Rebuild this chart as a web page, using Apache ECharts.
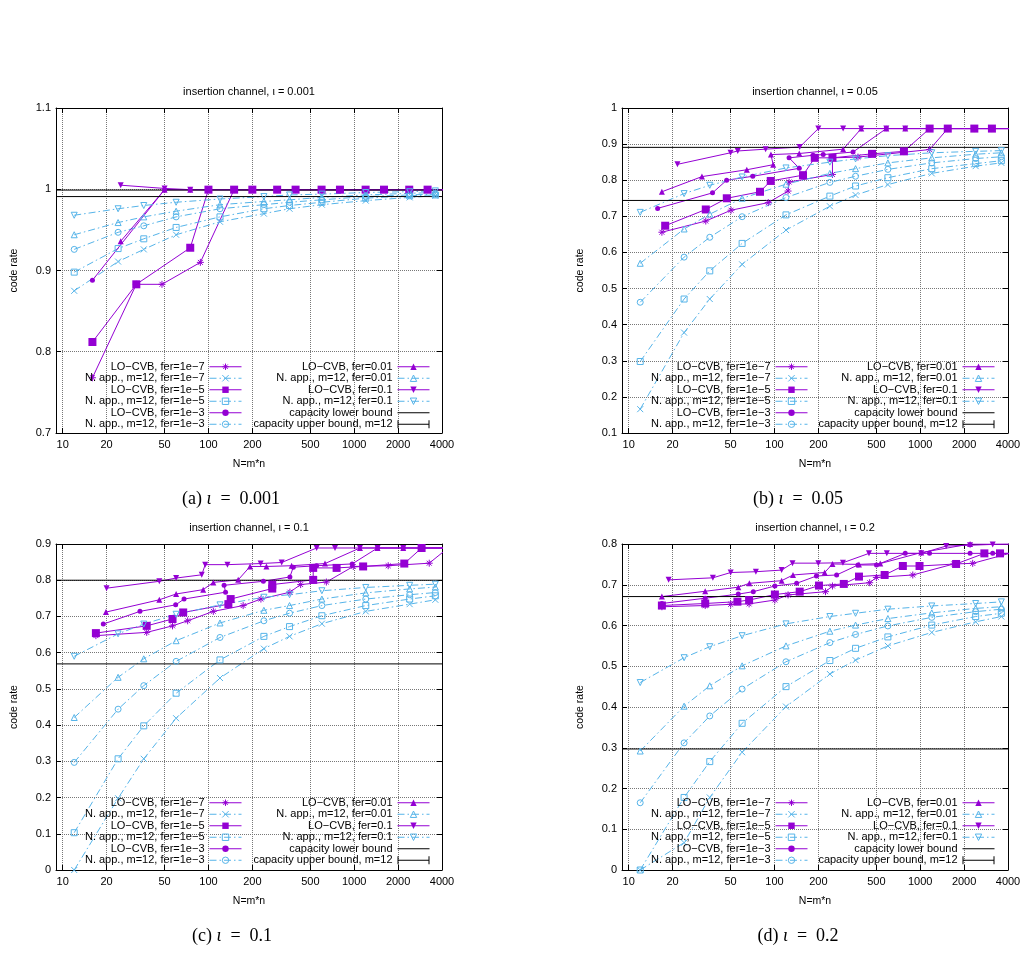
<!DOCTYPE html>
<html>
<head>
<meta charset="utf-8">
<script src="https://cdn.jsdelivr.net/npm/echarts@6/dist/echarts.min.js"></script>
<style>
html, body { margin: 0; padding: 0; background: #fff; }
#main { width: 1027px; height: 966px; }
</style>
</head>
<body>
<div id="main"></div>
<script>
// ---------------- data ----------------
// N values of the N. app. (m=12) points
var appN = [12, 24, 36, 60, 120, 240, 360, 600, 1200, 2400, 3600];
// x axis tick labels
var xTicks = [10, 20, 50, 100, 200, 500, 1000, 2000, 4000];
// iota of each panel
var iotas = ['0.001', '0.05', '0.1', '0.2'];
var yMin = [0.7, 0.1, 0, 0];
var yMax = [1.1, 1.0, 0.9, 0.8];
var capLower = [0.991, 0.744, 0.569, 0.297];
var capUpper = [0.999, 0.891, 0.800, 0.671];

// N. app. rates, rows: fer = 1e-7, 1e-5, 1e-3, 0.01, 0.1
var appA = [
    [0.875, 0.911, 0.926, 0.944, 0.960, 0.970, 0.976, 0.981, 0.986, 0.990, 0.992],
    [0.898, 0.927, 0.939, 0.953, 0.966, 0.976, 0.980, 0.984, 0.989, 0.992, 0.993],
    [0.926, 0.947, 0.955, 0.966, 0.976, 0.981, 0.984, 0.987, 0.991, 0.993, 0.994],
    [0.944, 0.959, 0.966, 0.973, 0.981, 0.985, 0.987, 0.990, 0.993, 0.995, 0.996],
    [0.968, 0.976, 0.980, 0.984, 0.988, 0.991, 0.993, 0.994, 0.996, 0.997, 0.998]
];
var appB = [
    [0.166, 0.378, 0.471, 0.567, 0.662, 0.728, 0.759, 0.788, 0.819, 0.839, 0.848],
    [0.298, 0.471, 0.549, 0.625, 0.704, 0.756, 0.784, 0.807, 0.832, 0.846, 0.854],
    [0.462, 0.587, 0.642, 0.699, 0.752, 0.794, 0.811, 0.830, 0.848, 0.860, 0.865],
    [0.570, 0.665, 0.706, 0.750, 0.789, 0.819, 0.832, 0.848, 0.862, 0.872, 0.876],
    [0.711, 0.763, 0.786, 0.809, 0.834, 0.850, 0.859, 0.868, 0.876, 0.880, 0.882]
];
var appC = [
    [0.000, 0.198, 0.307, 0.419, 0.530, 0.611, 0.645, 0.680, 0.714, 0.734, 0.746],
    [0.103, 0.307, 0.398, 0.488, 0.580, 0.645, 0.672, 0.702, 0.730, 0.748, 0.757],
    [0.297, 0.444, 0.509, 0.576, 0.642, 0.688, 0.709, 0.730, 0.748, 0.760, 0.766],
    [0.421, 0.532, 0.583, 0.633, 0.682, 0.717, 0.730, 0.748, 0.765, 0.776, 0.781],
    [0.590, 0.652, 0.679, 0.706, 0.732, 0.753, 0.760, 0.771, 0.780, 0.786, 0.789]
];
var appD = [
    [0.000, 0.067, 0.178, 0.289, 0.401, 0.481, 0.515, 0.550, 0.583, 0.609, 0.622],
    [0.000, 0.178, 0.266, 0.360, 0.450, 0.514, 0.544, 0.572, 0.601, 0.622, 0.630],
    [0.165, 0.312, 0.378, 0.444, 0.511, 0.558, 0.578, 0.599, 0.620, 0.634, 0.640],
    [0.292, 0.402, 0.452, 0.501, 0.550, 0.586, 0.601, 0.617, 0.631, 0.642, 0.646],
    [0.460, 0.521, 0.548, 0.575, 0.604, 0.622, 0.630, 0.640, 0.648, 0.654, 0.658]
];

// LO-CVB points [N, rate]
var cvbA7 = [[16,0.768],[32,0.883],[48,0.883],[88,0.910],[150,0.9995],[200,0.9995],[296,0.9995],[396,0.9995],[597,0.9995],[798,0.9995],[1197,0.9995],[1600,0.9995],[2384,0.9995],[3185,0.9995],[4400,0.9995]];
var cvbA5 = [[16,0.812],[32,0.883],[75,0.928],[100,0.9995],[150,0.9995],[200,0.9995],[296,0.9995],[396,0.9995],[597,0.9995],[798,0.9995],[1197,0.9995],[1600,0.9995],[2384,0.9995],[3185,0.9995],[4400,0.9995]];
var cvbA3 = [[16,0.888],[50,0.9995],[75,0.9995],[100,0.9995],[150,0.9995],[200,0.9995],[296,0.9995],[396,0.9995],[597,0.9995],[798,0.9995],[1197,0.9995],[1600,0.9995],[2384,0.9995],[3185,0.9995],[4400,0.9995]];
var cvbA2 = [[25,0.936],[50,0.9995],[75,0.9995],[100,0.9995],[150,0.9995],[200,0.9995],[296,0.9995],[396,0.9995],[597,0.9995],[798,0.9995],[1197,0.9995],[1600,0.9995],[2384,0.9995],[3185,0.9995],[4400,0.9995]];
var cvbA1 = [[25,1.005],[50,1.001],[75,0.9995],[100,0.9995],[150,0.9995],[200,0.9995],[296,0.9995],[396,0.9995],[597,0.9995],[798,0.9995],[1197,0.9995],[1600,0.9995],[2384,0.9995],[3185,0.9995],[4400,0.9995]];

var cvbB7 = [[16.9,0.656],[33.8,0.687],[50.4,0.717],[90.7,0.738],[124,0.770],[126,0.795],[250,0.816],[250,0.862],[374,0.864],[1160,0.885],[1545,0.943],[2350,0.943],[3103,0.943],[4400,0.943]];
var cvbB5 = [[17.8,0.674],[33.8,0.719],[47.1,0.750],[79.6,0.768],[94.3,0.798],[157,0.814],[189,0.862],[250,0.862],[467,0.873],[773,0.880],[1160,0.943],[1545,0.943],[2350,0.943],[3103,0.943],[4400,0.943]];
var cvbB3 = [[15.8,0.722],[37.6,0.765],[47,0.800],[71,0.811],[148,0.833],[126,0.862],[184,0.869],[216,0.871],[346,0.878],[585,0.943],[789,0.943],[1160,0.943],[1545,0.943],[2350,0.943],[3103,0.943],[4400,0.943]];
var cvbB2 = [[16.9,0.768],[31.8,0.810],[64.6,0.829],[98,0.843],[94.6,0.871],[148,0.874],[296,0.886],[394,0.943],[585,0.943],[789,0.943],[1160,0.943],[1545,0.943],[2350,0.943],[3103,0.943],[4400,0.943]];
var cvbB1 = [[21.6,0.844],[50,0.876],[56,0.881],[87,0.886],[149,0.892],[200,0.943],[296,0.943],[394,0.943],[585,0.943],[789,0.943],[1160,0.943],[1545,0.943],[2350,0.943],[3103,0.943],[4400,0.943]];

var cvbC7 = [[16.9,0.647],[37.7,0.656],[56.7,0.674],[72,0.688],[108,0.714],[173,0.730],[229,0.748],[362,0.767],[429,0.788],[644,0.795],[985,0.838],[1710,0.840],[3270,0.847],[4400,0.889]];
var cvbC5 = [[16.9,0.654],[37.7,0.674],[56.7,0.693],[67.1,0.711],[137,0.734],[142,0.748],[274,0.777],[274,0.788],[523,0.801],[523,0.834],[757,0.834],[1151,0.838],[2205,0.846],[2898,0.889],[4400,0.889]];
var cvbC3 = [[19,0.679],[33.9,0.714],[59.6,0.732],[68,0.748],[131,0.767],[128,0.786],[238,0.797],[362,0.809],[382,0.836],[552,0.840],[968,0.845],[1445,0.889],[2168,0.889],[2898,0.889],[4400,0.889]];
var cvbC2 = [[19.8,0.712],[46,0.746],[60,0.762],[92,0.774],[108,0.794],[160,0.801],[193,0.838],[250,0.838],[372,0.840],[630,0.846],[1094,0.889],[1445,0.889],[2168,0.889],[2898,0.889],[4400,0.889]];
var cvbC1 = [[20,0.778],[46,0.797],[60,0.806],[90,0.815],[95,0.843],[135,0.843],[228,0.846],[318,0.849],[552,0.889],[738,0.889],[1094,0.889],[1445,0.889],[2168,0.889],[2898,0.889],[4400,0.889]];

var cvbD7 = [[16.9,0.646],[33.5,0.649],[50.1,0.652],[67,0.653],[100.7,0.6625],[124,0.675],[224,0.683],[250,0.697],[450,0.705],[500,0.718],[889,0.724],[1700,0.751],[2290,0.7525],[4400,0.780]];
var cvbD5 = [[16.9,0.649],[33.5,0.654],[55.7,0.6585],[67,0.6625],[100.7,0.676],[149,0.683],[202,0.698],[299,0.702],[380,0.720],[570,0.724],[760,0.746],[989,0.746],[1762,0.751],[2754,0.777],[3524,0.777],[4400,0.777]];
var cvbD3 = [[16.9,0.654],[33.5,0.667],[56.5,0.677],[71.6,0.683],[100.7,0.697],[142,0.7035],[194,0.7215],[267,0.724],[374,0.7485],[501,0.7485],[789,0.777],[1158,0.777],[2197,0.777],[3140,0.777],[4400,0.777]];
var cvbD2 = [[16.9,0.671],[33.5,0.684],[56.5,0.694],[67.3,0.7035],[112,0.710],[134,0.724],[221,0.730],[250,0.751],[380,0.750],[532,0.752],[1016,0.779],[2197,0.800],[4400,0.800]];
var cvbD1 = [[18.8,0.712],[37.8,0.717],[50.1,0.730],[74.6,0.732],[112,0.736],[133,0.753],[200,0.753],[295,0.754],[445,0.777],[590,0.777],[1016,0.777],[1507,0.795],[2197,0.797],[3140,0.799],[4400,0.800]];

// ---------------- layout / style ----------------
var FONT = '"Liberation Sans", Arial, Helvetica, sans-serif';
var SERIF = '"Liberation Serif", "Times New Roman", serif';
var PURPLE = '#9400d3';
var BLUE = '#56b4e9';
var STAR = 'path://M5,0L5,10M0,5L10,5M1.5,1.5L8.5,8.5M8.5,1.5L1.5,8.5';
var CROSS = 'path://M0,0L10,10M10,0L0,10';

var fers = ['1e\u22127', '1e\u22125', '1e\u22123', '0.01', '0.1'];
var cvbNames = fers.map(function (f) { return 'LO\u2212CVB, fer=' + f; });
var appNames = fers.map(function (f) { return 'N. app., m=12, fer=' + f; });
var lowName = 'capacity lower bound';
var upName = 'capacity upper bound, m=12';

var appAll = [appA, appB, appC, appD];
var cvbAll = [
    [cvbA7, cvbA5, cvbA3, cvbA2, cvbA1],
    [cvbB7, cvbB5, cvbB3, cvbB2, cvbB1],
    [cvbC7, cvbC5, cvbC3, cvbC2, cvbC1],
    [cvbD7, cvbD5, cvbD3, cvbD2, cvbD1]
];

// marker of each fer (LO-CVB filled, N. app. open)
var cvbSym = [
    {symbol: STAR, size: 7, rotate: 0, open: true},
    {symbol: 'rect', size: 8, rotate: 0},
    {symbol: 'circle', size: 5, rotate: 0},
    {symbol: 'triangle', size: 6, rotate: 0},
    {symbol: 'triangle', size: 6, rotate: 180}
];
var appSym = [
    {symbol: CROSS, size: 6, rotate: 0, open: true},
    {symbol: 'rect', size: 6, rotate: 0, open: true},
    {symbol: 'circle', size: 6, rotate: 0, open: true},
    {symbol: 'triangle', size: 6, rotate: 0, open: true},
    {symbol: 'triangle', size: 6, rotate: 180, open: true}
];

var grids = [
    {left: 56, top: 108, width: 386, height: 325},
    {left: 622, top: 108, width: 386, height: 325},
    {left: 56, top: 544, width: 386, height: 326},
    {left: 622, top: 544, width: 386, height: 326}
];
var legendRight = [[785, 597], [219, 32], [785, 597], [219, 32]];
var legendTop = [361, 361, 797, 797];
var captionPos = [[231, 499], [798, 499], [232, 936], [798, 936]];

var X0 = Math.log10(9), X1 = Math.log10(4000);
var xTickVals = xTicks.map(function (v) { return Math.log10(v); });

function lineSeries(g, name, pts, sym, color, dashed) {
    return {
        type: 'line',
        name: name,
        xAxisIndex: 2 * g,
        yAxisIndex: 2 * g,
        data: pts.map(function (p) { return [Math.log10(p[0]), p[1]]; }),
        symbol: sym.symbol,
        symbolSize: sym.size,
        symbolRotate: sym.rotate,
        showAllSymbol: true,
        lineStyle: {color: color, width: 1, type: dashed ? [7, 3, 1.5, 3] : 'solid'},
        itemStyle: sym.open ? {color: 'rgba(0,0,0,0)', borderColor: color, borderWidth: 1} : {color: color},
        emphasis: {disabled: true}
    };
}

function hLine(g, name, v) {
    return {
        type: 'line',
        name: name,
        xAxisIndex: 2 * g,
        yAxisIndex: 2 * g,
        data: [[X0, v], [X1, v]],
        symbol: 'none',
        lineStyle: {color: '#000', width: 1},
        itemStyle: {color: '#000'},
        emphasis: {disabled: true}
    };
}

var xAxes = [], yAxes = [], series = [], legends = [], titles = [], graphics = [];

for (var g = 0; g < 4; g++) {
    // bottom and top x axes (log scale drawn on log10 values)
    xAxes.push({
        type: 'value', gridIndex: g, position: 'bottom', min: X0, max: X1,
        name: 'N=m*n', nameLocation: 'middle', nameGap: 26,
        nameTextStyle: {fontSize: 10.5, color: '#000', fontFamily: FONT},
        axisLine: {show: true, onZero: false, lineStyle: {color: '#000', width: 1}},
        axisTick: {show: true, inside: true, length: 5, customValues: xTickVals, lineStyle: {color: '#000'}},
        axisLabel: {
            customValues: xTickVals, margin: 6, fontSize: 11, color: '#000', fontFamily: FONT,
            formatter: function (v) { return String(Math.round(Math.pow(10, v))); }
        },
        splitLine: {show: true, lineStyle: {color: '#777', type: 'dotted', width: 1}}
    });
    xAxes.push({
        type: 'value', gridIndex: g, position: 'top', min: X0, max: X1,
        axisLine: {show: true, onZero: false, lineStyle: {color: '#000', width: 1}},
        axisTick: {show: true, inside: true, length: 5, customValues: xTickVals, lineStyle: {color: '#000'}},
        axisLabel: {show: false},
        splitLine: {show: false}
    });
    // left and right y axes
    yAxes.push({
        type: 'value', gridIndex: g, position: 'left', min: yMin[g], max: yMax[g], interval: 0.1,
        name: 'code rate', nameLocation: 'middle', nameGap: 36,
        nameTextStyle: {fontSize: 10.5, color: '#000', fontFamily: FONT},
        axisLine: {show: true, onZero: false, lineStyle: {color: '#000', width: 1}},
        axisTick: {show: true, inside: true, length: 5, lineStyle: {color: '#000'}},
        axisLabel: {margin: 5, fontSize: 11, color: '#000', fontFamily: FONT},
        splitLine: {show: true, lineStyle: {color: '#777', type: 'dotted', width: 1}}
    });
    yAxes.push({
        type: 'value', gridIndex: g, position: 'right', min: yMin[g], max: yMax[g], interval: 0.1,
        axisLine: {show: true, onZero: false, lineStyle: {color: '#000', width: 1}},
        axisTick: {show: true, inside: true, length: 5, lineStyle: {color: '#000'}},
        axisLabel: {show: false},
        splitLine: {show: false}
    });

    // series, in the order of the gnuplot key
    for (var k = 0; k < 5; k++) {
        series.push(lineSeries(g, cvbNames[k], cvbAll[g][k], cvbSym[k], PURPLE, false));
        var appPts = appN.map(function (n, i) { return [n, appAll[g][k][i]]; });
        series.push(lineSeries(g, appNames[k], appPts, appSym[k], BLUE, true));
    }
    series.push(hLine(g, lowName, capLower[g]));
    series.push(hLine(g, upName, capUpper[g]));

    // two key columns
    var legBase = {
        orient: 'vertical', align: 'right', padding: 0, itemGap: 0,
        itemWidth: 32, itemHeight: 8, selectedMode: false, top: legendTop[g],
        itemStyle: {borderWidth: 1},
        lineStyle: {width: 1},
        textStyle: {fontSize: 11, color: '#000', fontFamily: FONT, lineHeight: 11.5}
    };
    legends.push(Object.assign({}, legBase, {
        right: legendRight[g][0],
        data: [cvbNames[0], appNames[0], cvbNames[1], appNames[1], cvbNames[2], appNames[2]]
    }));
    legends.push(Object.assign({}, legBase, {
        right: legendRight[g][1],
        data: [cvbNames[3], appNames[3], cvbNames[4], appNames[4],
            {name: lowName, icon: 'path://M0,0H32V1.2H0Z'},
            {name: upName, icon: 'path://M0,0H1V3.4H31V0H32V8H31V4.6H1V8H0Z'}]
    }));

    titles.push({
        text: 'insertion channel, \u03b9 = ' + iotas[g],
        left: grids[g].left + grids[g].width / 2,
        top: grids[g].top - 22,
        textAlign: 'center', padding: 0,
        textStyle: {fontSize: 11, fontWeight: 'normal', color: '#000', fontFamily: FONT}
    });

    graphics.push({
        type: 'text',
        x: captionPos[g][0], y: captionPos[g][1],
        style: {
            text: '(' + 'abcd'[g] + ') {i|\u03b9}\u2002=\u2002' + iotas[g],
            fontSize: 18, fontFamily: SERIF,
            fill: '#000', align: 'center', verticalAlign: 'middle',
            rich: {i: {fontSize: 18, fontStyle: 'italic', fontFamily: SERIF}}
        }
    });
}

var myChart = echarts.init(document.getElementById('main'));
myChart.setOption({
    animation: false,
    backgroundColor: '#fff',
    title: titles,
    grid: grids,
    xAxis: xAxes,
    yAxis: yAxes,
    legend: legends,
    series: series,
    graphic: graphics
});
</script>
</body>
</html>
